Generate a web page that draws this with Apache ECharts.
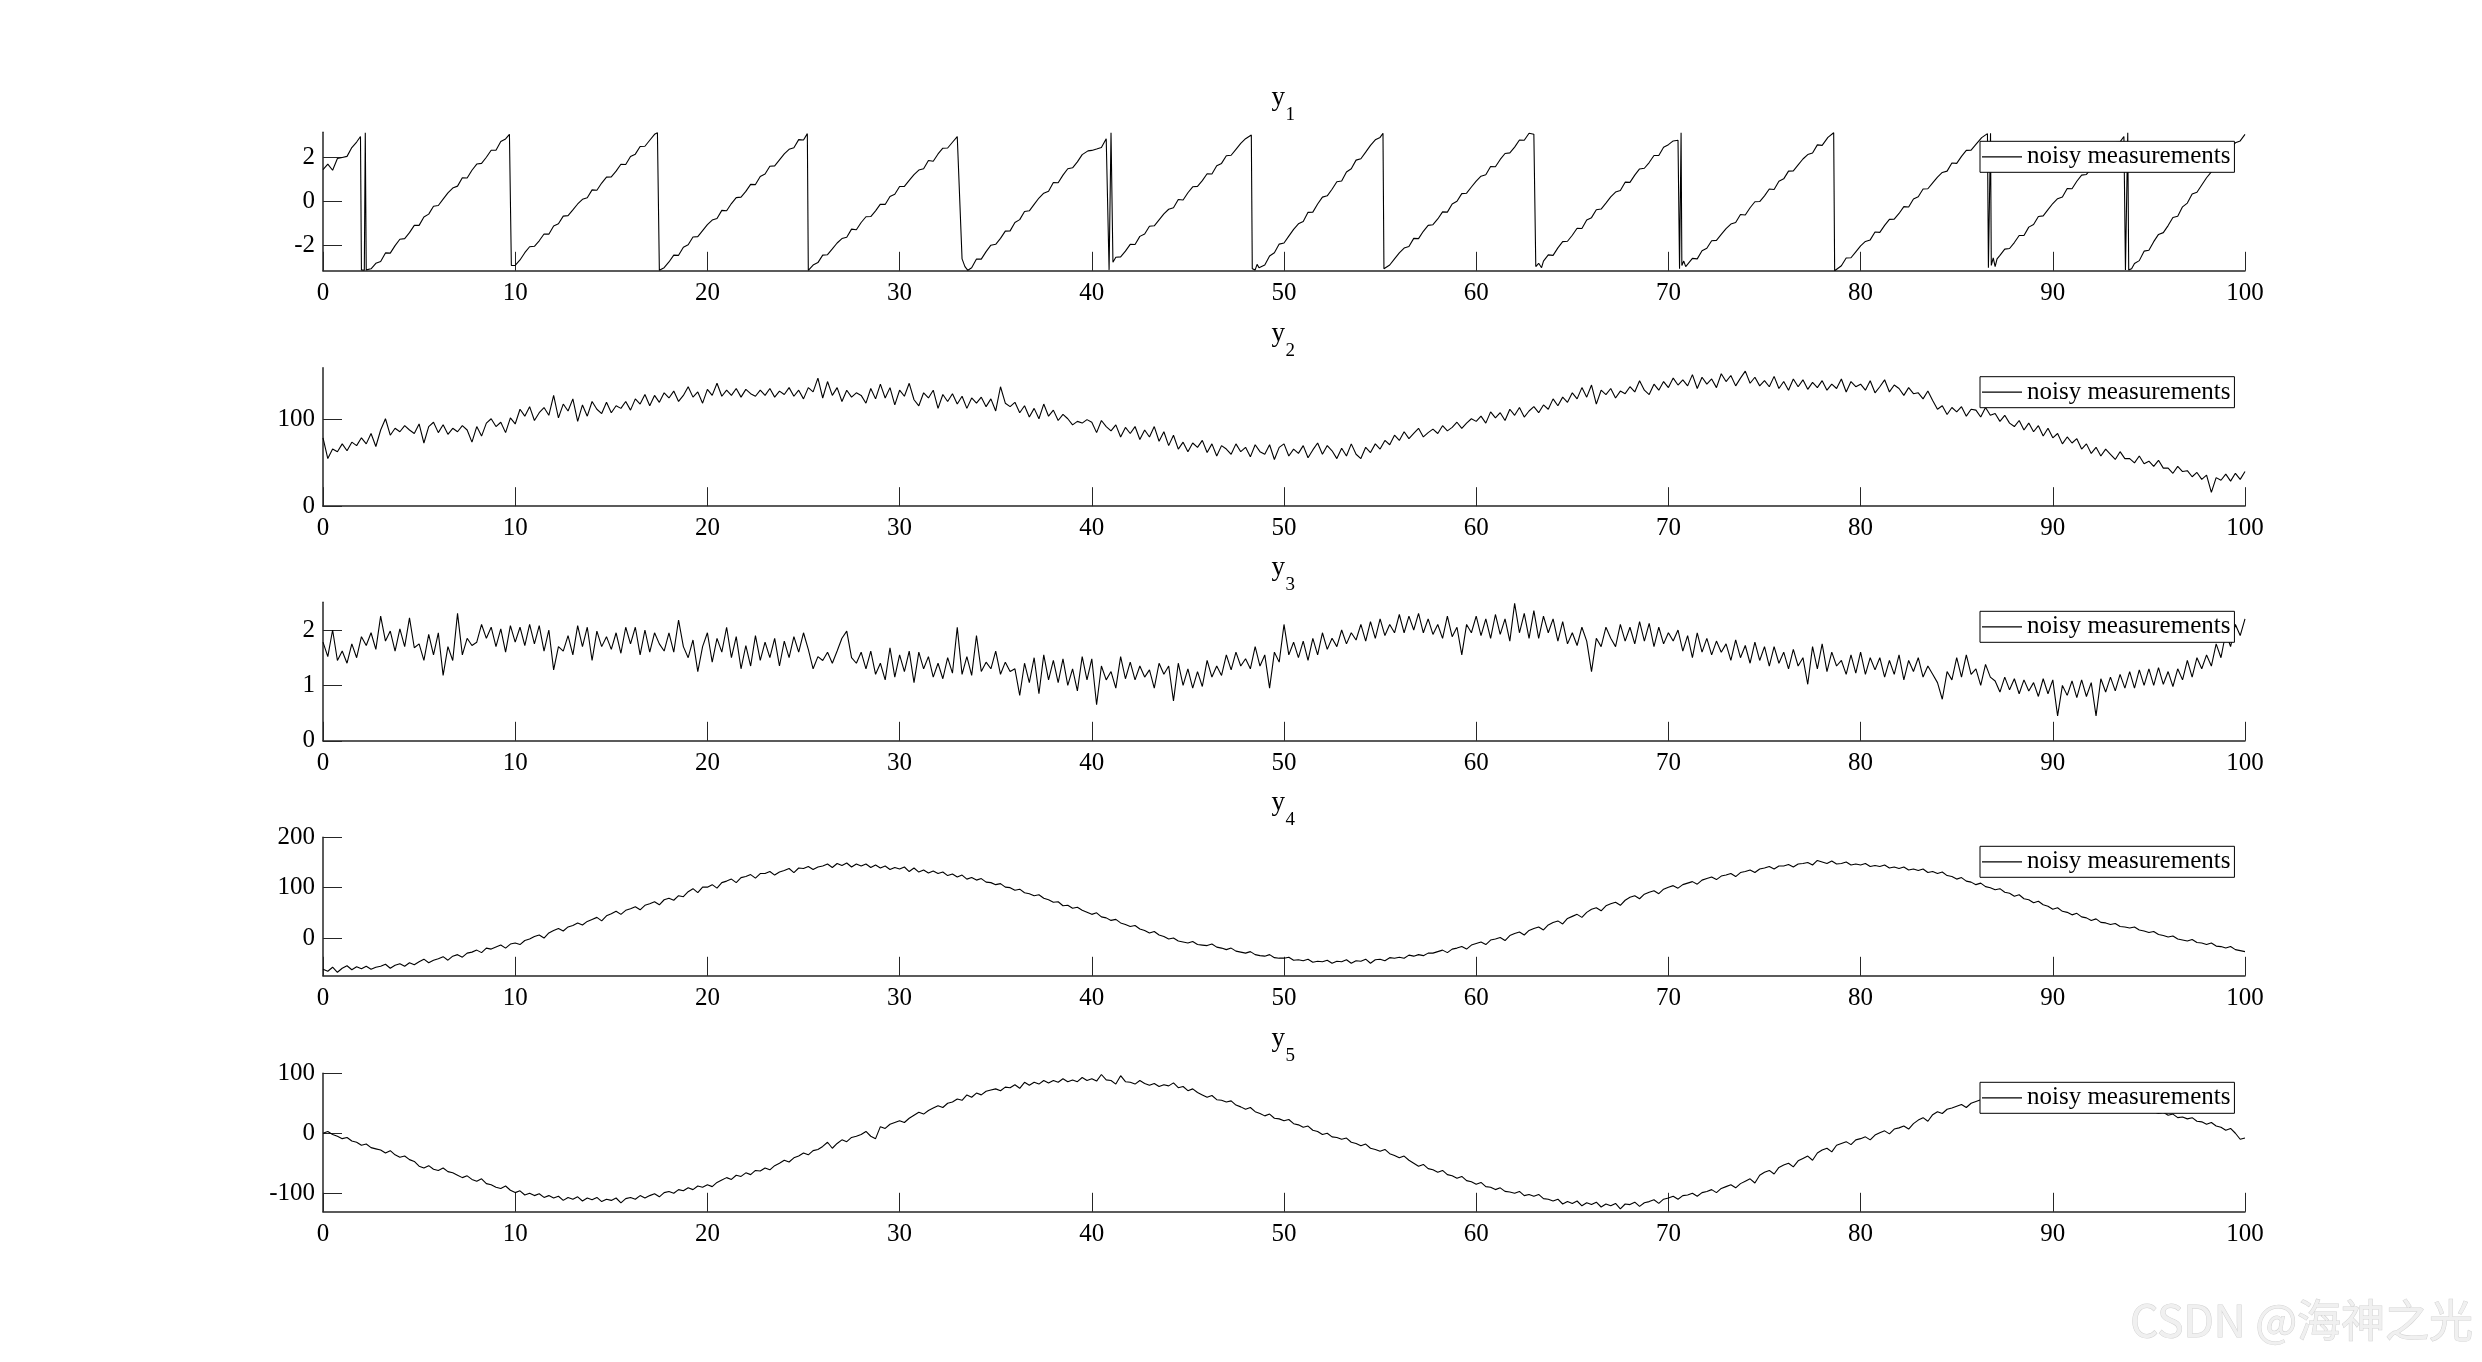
<!DOCTYPE html>
<html><head><meta charset="utf-8">
<script src="https://cdn.jsdelivr.net/npm/echarts@6/dist/echarts.min.js"></script>
<style>html,body{margin:0;padding:0;background:#fff;}#c{width:2482px;height:1362px;}</style>
</head><body><div id="c"></div>
<script>
// ---------- data ----------
const STEP = 0.25; // sampling step of y2..y5 (x = index * STEP)
const xTicks = [0,10,20,30,40,50,60,70,80,90,100];
const y1Ticks = [-2,0,2];
const y2Ticks = [0,100];
const y3Ticks = [0,1,2];
const y4Ticks = [0,100,200];
const y5Ticks = [-100,0,100];
const legendName = 'noisy measurements';
const titleSubs = ['1','2','3','4','5'];

// y1: wrapped phase, [x, y] pairs
const y1 = [
[0,1.45],[0.25,1.7],[0.5,1.42],[0.75,1.95],[1,2.0],[1.25,2.05],[1.5,2.45],[1.75,2.7],[1.95,2.95],
[2.0,-3.1],[2.15,-3.12],[2.2,3.12],[2.25,-3.1],[2.5,-3.05],
[2.75,-2.80],[3,-2.72],[3.25,-2.33],[3.5,-2.34],[3.75,-2.00],[4,-1.71],[4.25,-1.68],[4.5,-1.41],[4.75,-1.08],[5,-1.08],[5.25,-0.70],[5.5,-0.57],[5.75,-0.21],[6,-0.18],[6.25,0.11],[6.5,0.39],[6.75,0.61],[7,0.70],[7.25,1.08],[7.5,1.07],[7.75,1.42],[8,1.70],[8.25,1.73],[8.5,2.01],[8.75,2.33],[9,2.33],[9.25,2.72],[9.5,2.84],[9.7,3.05],
[9.8,-2.9],[10,-2.9],[10.25,-2.65],[10.5,-2.32],[10.75,-2.05],[11,-2.03],[11.25,-1.78],[11.5,-1.47],[11.75,-1.48],[12,-1.11],[12.25,-1.01],[12.5,-0.66],[12.75,-0.64],[13,-0.38],[13.25,-0.11],[13.5,0.10],[13.75,0.17],[14,0.53],[14.25,0.51],[14.5,0.84],[14.75,1.11],[15,1.12],[15.25,1.38],[15.5,1.69],[15.75,1.68],[16,2.04],[16.25,2.15],[16.5,2.50],[16.75,2.51],[17,2.78],[17.25,3.05],[17.4,3.12],
[17.5,-3.12],[17.75,-3.0],[18,-2.74],[18.25,-2.43],[18.5,-2.44],[18.75,-2.07],[19,-1.96],[19.25,-1.61],[19.5,-1.59],[19.75,-1.32],[20,-1.05],[20.25,-0.84],[20.5,-0.77],[20.75,-0.40],[21,-0.42],[21.25,-0.09],[21.5,0.18],[21.75,0.20],[22,0.46],[22.25,0.78],[22.5,0.77],[22.75,1.14],[23,1.25],[23.25,1.60],[23.5,1.62],[23.75,1.89],[24,2.16],[24.25,2.37],[24.5,2.44],[24.75,2.81],[25,2.79],[25.2,3.08],
[25.25,-3.12],[25.5,-2.88],[25.75,-2.77],[26,-2.43],[26.25,-2.41],[26.5,-2.15],[26.75,-1.88],[27,-1.68],[27.25,-1.62],[27.5,-1.25],[27.75,-1.28],[28,-0.95],[28.25,-0.69],[28.5,-0.68],[28.75,-0.42],[29,-0.12],[29.25,-0.13],[29.5,0.23],[29.75,0.33],[30,0.68],[30.25,0.69],[30.5,0.96],[30.75,1.22],[31,1.43],[31.25,1.49],[31.5,1.86],[31.75,1.83],[32,2.16],[32.25,2.42],[32.5,2.43],[32.75,2.69],[33,2.95],[33.1,2.98],
[33.25,-2.6],[33.4,-2.95],[33.55,-3.12],
[33.75,-3.0],[34,-2.61],[34.25,-2.61],[34.5,-2.27],[34.75,-1.98],[35,-1.94],[35.25,-1.67],[35.5,-1.34],[35.75,-1.33],[36,-0.95],[36.25,-0.82],[36.5,-0.45],[36.75,-0.42],[37,-0.13],[37.25,0.16],[37.5,0.38],[37.75,0.47],[38,0.86],[38.25,0.85],[38.5,1.20],[38.75,1.49],[39,1.53],[39.25,1.80],[39.5,2.13],[39.8,2.3],[40,2.32],[40.25,2.38],[40.5,2.45],[40.75,2.85],[40.85,2.92],
[40.9,-3.1],[40.95,-3.12],[41,3.12],[41.05,3.1],[41.1,-2.75],
[41.25,-2.53],[41.5,-2.51],[41.75,-2.25],[42,-1.94],[42.25,-1.95],[42.5,-1.58],[42.75,-1.47],[43,-1.12],[43.25,-1.10],[43.5,-0.83],[43.75,-0.56],[44,-0.35],[44.25,-0.28],[44.5,0.09],[44.75,0.07],[45,0.40],[45.25,0.67],[45.5,0.69],[45.75,0.95],[46,1.26],[46.25,1.25],[46.5,1.62],[46.75,1.73],[47,2.08],[47.25,2.10],[47.5,2.37],[47.75,2.64],[48,2.85],[48.3,3.02],
[48.35,-3.05],[48.5,-3.1],[48.6,-2.85],[48.7,-3.0],[48.8,-2.95],
[49,-2.88],[49.25,-2.47],[49.5,-2.32],[49.75,-1.93],[50,-1.88],[50.25,-1.57],[50.5,-1.26],[50.75,-1.01],[51,-0.90],[51.25,-0.49],[51.5,-0.48],[51.75,-0.11],[52,0.20],[52.25,0.26],[52.5,0.56],[52.75,0.90],[53,0.93],[53.25,1.34],[53.5,1.49],[53.75,1.88],[54,1.94],[54.25,2.24],[54.5,2.55],[54.75,2.80],[55,2.91],[55.15,3.1],
[55.2,-3.05],[55.5,-2.88],[55.75,-2.60],[56,-2.33],[56.25,-2.11],[56.5,-2.04],[56.75,-1.67],[57,-1.68],[57.25,-1.35],[57.5,-1.08],[57.75,-1.05],[58,-0.79],[58.25,-0.47],[58.5,-0.48],[58.75,-0.11],[59,0.01],[59.25,0.36],[59.5,0.38],[59.75,0.66],[60,0.93],[60.25,1.15],[60.5,1.22],[60.75,1.59],[61,1.58],[61.25,1.91],[61.5,2.18],[61.75,2.21],[62,2.47],[62.25,2.79],[62.5,2.78],[62.75,3.1],[63,3.05],
[63.1,-2.95],[63.25,-2.8],[63.4,-3.0],[63.5,-2.7],
[63.75,-2.42],[64,-2.44],[64.25,-2.10],[64.5,-1.82],[64.75,-1.80],[65,-1.53],[65.25,-1.21],[65.5,-1.22],[65.75,-0.84],[66,-0.73],[66.25,-0.37],[66.5,-0.34],[66.75,-0.07],[67,0.21],[67.25,0.43],[67.5,0.50],[67.75,0.88],[68,0.87],[68.25,1.20],[68.5,1.48],[68.75,1.51],[69,1.77],[69.25,2.09],[69.5,2.09],[69.75,2.46],[70,2.58],[70.25,2.75],[70.5,2.78],
[70.58,-3.05],[70.62,-3.1],[70.66,3.12],[70.7,-2.9],[70.8,-2.7],[70.9,-2.95],
[71,-2.89],[71.25,-2.58],[71.5,-2.60],[71.75,-2.23],[72,-2.12],[72.25,-1.78],[72.5,-1.76],[72.75,-1.49],[73,-1.23],[73.25,-1.02],[73.5,-0.95],[73.75,-0.59],[74,-0.61],[74.25,-0.28],[74.5,-0.01],[74.75,0.00],[75,0.26],[75.25,0.57],[75.5,0.55],[75.75,0.92],[76,1.03],[76.25,1.38],[76.5,1.39],[76.75,1.66],[77,1.93],[77.25,2.13],[77.5,2.20],[77.75,2.57],[78,2.55],[78.3,2.91],[78.6,3.12],
[78.65,-3.14],[79,-2.91],[79.25,-2.56],[79.5,-2.55],[79.75,-2.28],[80,-2.01],[80.25,-1.81],[80.5,-1.74],[80.75,-1.38],[81,-1.40],[81.25,-1.08],[81.5,-0.81],[81.75,-0.80],[82,-0.54],[82.25,-0.23],[82.5,-0.25],[82.75,0.12],[83,0.22],[83.25,0.57],[83.5,0.58],[83.75,0.85],[84,1.11],[84.25,1.32],[84.5,1.38],[84.75,1.75],[85,1.73],[85.25,2.05],[85.5,2.32],[85.75,2.33],[86,2.59],[86.3,2.9],[86.6,3.08],
[86.65,-3.0],[86.72,-3.05],[86.76,3.1],[86.8,-2.9],[86.9,-2.55],[87,-2.95],[87.1,-2.6],
[87.25,-2.44],[87.5,-2.16],[87.75,-2.13],[88,-1.86],[88.25,-1.54],[88.5,-1.54],[88.75,-1.16],[89,-1.04],[89.25,-0.68],[89.5,-0.65],[89.75,-0.37],[90,-0.09],[90.25,0.13],[90.5,0.21],[90.75,0.59],[91,0.58],[91.25,0.92],[91.5,1.20],[91.75,1.23],[92,1.50],[92.25,1.82],[92.5,1.82],[92.75,2.20],[93,2.32],[93.25,2.68],[93.5,2.71],[93.7,2.95],
[93.78,-3.1],[93.85,-3.12],[93.9,3.12],[93.95,-3.1],[94.1,-3.05],
[94.25,-2.81],[94.5,-2.68],[94.75,-2.25],[95,-2.21],[95.25,-1.82],[95.5,-1.49],[95.75,-1.41],[96,-1.09],[96.25,-0.72],[96.5,-0.67],[96.75,-0.24],[97,-0.07],[97.25,0.34],[97.5,0.42],[97.75,0.75],[98,1.08],[98.25,1.35],[98.5,1.48],[98.75,1.91],[99,1.95],[99.25,2.34],[99.5,2.67],[99.75,2.75],[100,3.05]
];

const y2 = [
79,55,66,63, 72,64,74,70, 79,72,84,69, 88,101,82,90, 86,93,88,84,
95,73,92,97, 85,94,83,90, 86,93,88,74, 92,81,96,101, 92,97,85,102,
95,112,104,115, 99,108,114,105, 128,102,118,110, 124,98,117,104, 121,112,107,120,
108,116,113,121, 111,124,118,129, 116,128,120,131, 125,133,121,128, 138,126,132,119,
135,128,142,127, 134,128,136,126, 135,130,127,134, 128,136,126,133, 129,137,127,134,
124,137,132,148, 125,144,128,137, 121,134,126,131, 128,119,136,124, 141,125,137,117,
134,127,142,123, 116,131,125,134, 113,129,121,130, 118,127,113,125, 119,126,115,124,
110,138,119,115, 120,108,116,103, 113,101,118,104, 111,99,106,101, 94,98,96,100,
97,85,99,92, 87,94,80,91, 84,92,77,88, 80,92,75,86, 70,82,66,74,
63,73,68,76, 62,72,58,70, 66,60,72,63, 68,57,71,63, 60,71,54,68,
72,58,66,61, 70,56,65,73, 60,70,64,55, 67,58,72,60, 55,68,62,72,
66,76,71,82, 76,86,78,84, 90,80,85,89, 84,93,87,91, 97,90,96,101,
98,104,96,109, 102,108,99,112, 105,114,103,110, 115,108,117,112, 124,116,126,120,
131,124,137,126, 140,118,134,129, 136,125,133,130, 138,132,145,134, 129,141,134,144,
137,148,140,146, 139,152,136,149, 141,147,137,153, 144,151,139,148, 156,142,149,139,
145,138,150,136, 144,134,147,138, 146,135,143,137, 145,134,141,136, 147,132,144,138,
141,134,145,131, 138,146,132,140, 136,128,137,130, 131,124,133,122, 112,116,106,114,
109,115,104,112, 111,103,114,105, 107,98,105,96, 92,99,88,96, 86,93,81,90,
79,84,72,80, 73,78,66,72, 61,68,58,66, 60,54,63,55, 55,50,58,49,
52,46,53,44, 44,38,46,40, 41,34,39,31, 36,16,33,30, 37,29,38,31,
40];

const y3 = [
1.78,1.52,2.0,1.45, 1.62,1.4,1.75,1.5, 1.88,1.72,1.95,1.65, 2.25,1.8,1.98,1.62, 2.02,1.7,2.22,1.68,
1.75,1.45,1.92,1.55, 1.95,1.18,1.7,1.45, 2.3,1.55,1.85,1.72, 1.78,2.1,1.85,2.05, 1.7,2.02,1.6,2.08,
1.78,2.05,1.72,2.1, 1.75,2.08,1.62,2.0, 1.28,1.7,1.62,1.9, 1.55,2.08,1.7,2.05, 1.45,1.98,1.7,1.88,
1.65,1.95,1.58,2.05, 1.75,2.05,1.55,2.0, 1.6,1.95,1.75,1.62, 1.95,1.6,2.18,1.7, 1.5,1.82,1.25,1.7,
1.95,1.42,1.85,1.6, 2.05,1.5,1.88,1.3, 1.72,1.35,1.9,1.45, 1.78,1.5,1.85,1.35, 1.8,1.5,1.88,1.6,
1.95,1.65,1.3,1.52, 1.45,1.6,1.4,1.62, 1.85,1.98,1.5,1.4, 1.6,1.3,1.62,1.2, 1.4,1.1,1.68,1.15,
1.55,1.25,1.62,1.05, 1.6,1.3,1.52,1.15, 1.4,1.12,1.5,1.22, 2.05,1.2,1.52,1.18, 1.9,1.25,1.42,1.3,
1.62,1.2,1.42,1.25, 1.3,0.82,1.4,1.05, 1.5,0.85,1.55,1.1, 1.45,1.05,1.48,1.0, 1.3,0.9,1.52,1.1,
1.48,0.65,1.35,1.1, 1.25,0.95,1.52,1.12, 1.42,1.1,1.35,1.15, 1.28,0.95,1.4,1.2, 1.35,0.72,1.4,1.0,
1.3,0.95,1.25,0.98, 1.45,1.15,1.35,1.18, 1.55,1.28,1.6,1.35, 1.48,1.3,1.7,1.35, 1.55,0.95,1.6,1.42,
2.1,1.55,1.78,1.5, 1.8,1.45,1.85,1.55, 1.95,1.65,1.85,1.7, 2.0,1.75,1.95,1.82, 2.1,1.8,2.15,1.85,
2.2,1.9,2.1,1.95, 2.28,1.95,2.25,2.0, 2.3,1.95,2.2,1.92, 2.1,1.85,2.25,1.88, 2.05,1.55,2.1,1.95,
2.25,1.9,2.2,1.85, 2.28,1.92,2.2,1.8, 2.48,1.95,2.3,1.85, 2.35,1.85,2.25,1.95, 2.2,1.8,2.15,1.75,
1.95,1.72,2.05,1.8, 1.25,1.85,1.7,2.05, 1.85,1.7,2.1,1.8, 2.05,1.75,2.15,1.8, 2.12,1.7,2.05,1.75,
1.95,1.8,2.0,1.62, 1.9,1.5,1.95,1.6, 1.85,1.55,1.8,1.6, 1.75,1.45,1.82,1.5, 1.72,1.4,1.78,1.45,
1.7,1.35,1.7,1.4, 1.6,1.3,1.65,1.35, 1.5,1.02,1.7,1.3, 1.75,1.25,1.6,1.35, 1.45,1.2,1.55,1.22,
1.6,1.2,1.5,1.28, 1.5,1.15,1.45,1.2, 1.55,1.1,1.45,1.25, 1.5,1.15,1.35,1.2, 1.05,0.75,1.25,1.1,
1.5,1.15,1.55,1.2, 1.3,1.0,1.38,1.15, 1.08,0.88,1.15,0.92, 1.12,0.85,1.1,0.9, 1.05,0.8,1.12,0.85,
1.1,0.45,1.0,0.82, 1.08,0.78,1.1,0.8, 1.05,0.45,1.12,0.88, 1.15,0.9,1.2,0.95, 1.25,0.95,1.28,1.0,
1.3,1.0,1.32,1.02, 1.25,0.98,1.3,1.1, 1.45,1.15,1.5,1.3, 1.55,1.35,1.75,1.5, 1.95,1.7,2.1,1.9,
2.2];

const y4 = [
-62,-66,-58,-68, -60,-55,-63,-57, -61,-56,-62,-58, -56,-52,-60,-54, -51,-56,-49,-53,
-47,-42,-49,-44, -41,-37,-44,-36, -33,-38,-30,-28, -24,-29,-20,-22, -18,-14,-20,-12,
-10,-13,-5,-2, 3,6,0,10, 15,19,14,22, 25,30,26,33, 37,41,34,44,
48,53,47,55, 58,62,56,65, 68,72,66,76, 79,75,84,82, 92,98,90,101,
101,106,99,110, 113,117,110,120, 122,126,119,128, 128,132,125,131, 134,138,130,139,
138,142,136,141, 143,147,140,148, 144,149,141,147, 143,147,140,145, 139,143,136,140,
137,141,132,139, 131,135,129,133, 128,131,124,127, 121,125,117,120, 115,118,111,110,
106,108,101,100, 95,97,90,88, 84,86,79,76, 71,72,64,65, 59,61,55,51,
47,50,42,40, 35,37,30,27, 23,25,18,15, 10,13,6,3, -2,0,-6,-8,
-10,-7,-13,-14, -15,-12,-18,-20, -23,-20,-26,-28, -30,-27,-33,-35, -36,-33,-39,-40,
-40,-38,-44,-43, -45,-42,-48,-46, -47,-44,-50,-46, -47,-43,-50,-45, -46,-42,-50,-43,
-42,-45,-39,-40, -38,-40,-34,-36, -33,-35,-30,-30, -27,-24,-29,-22, -20,-17,-22,-14,
-11,-8,-13,-4, -2,1,-5,5, 9,12,6,15, 19,22,16,26, 31,34,28,39,
43,47,41,51, 57,60,54,64, 68,71,65,75, 81,84,78,87, 91,94,88,97,
101,104,99,106, 109,112,107,115, 118,121,116,123, 125,128,122,130, 132,135,130,137,
139,142,137,143, 143,146,141,147, 148,150,145,154, 151,148,153,147, 148,151,145,147,
145,148,142,144, 142,145,139,141, 138,141,135,137, 134,137,130,132, 128,131,124,122,
117,120,113,111, 106,109,102,100, 96,98,91,89, 83,86,78,76, 70,73,66,63,
57,60,53,51, 46,49,42,40, 35,38,31,30, 27,29,23,22, 20,22,16,14,
11,13,7,5, 2,4,-2,-4, -6,-3,-9,-10, -13,-10,-16,-17, -20,-17,-23,-25,
-27];

const y5 = [
0,3,-2,-5, -9,-7,-13,-15, -20,-18,-24,-26, -28,-33,-29,-36, -40,-38,-44,-47,
-55,-58,-54,-60, -62,-58,-64,-66, -70,-74,-71,-77, -80,-76,-84,-86, -90,-92,-88,-95,
-99,-96,-103,-100, -104,-101,-107,-104, -108,-105,-112,-107, -110,-106,-113,-108, -111,-107,-114,-110,
-112,-108,-116,-109, -107,-110,-104,-108, -104,-101,-106,-99, -97,-100,-94,-96, -91,-94,-88,-90,
-86,-89,-82,-78, -74,-77,-70,-72, -66,-69,-62,-63, -58,-61,-54,-50, -45,-48,-41,-38,
-33,-36,-29,-27, -22,-15,-25,-17, -11,-14,-7,-5, -2,3,-5,-9, 11,8,15,18,
21,18,25,30, 35,32,38,42, 46,43,50,52, 57,55,64,60, 67,64,70,72,
74,71,77,76, 81,75,85,80, 85,82,88,84, 88,85,91,86, 89,86,93,88,
91,87,98,89, 88,82,96,86, 85,82,88,83, 80,83,78,81, 79,84,76,78,
71,74,68,64, 60,63,56,55, 52,54,47,44, 40,43,36,33, 29,32,25,24,
21,23,16,14, 10,12,5,3, -2,0,-6,-7, -10,-8,-15,-17, -21,-18,-25,-27,
-30,-27,-34,-37, -41,-38,-45,-50, -55,-52,-59,-61, -65,-62,-69,-71, -75,-72,-79,-81,
-85,-82,-89,-90, -94,-91,-97,-98, -100,-97,-104,-102, -105,-102,-109,-110, -113,-110,-118,-114,
-117,-113,-121,-116, -119,-115,-123,-118, -121,-117,-126,-118, -119,-115,-122,-116, -114,-111,-117,-110,
-108,-105,-110,-104, -103,-100,-105,-99, -97,-94,-99,-92, -89,-86,-91,-84, -80,-76,-83,-70,
-65,-62,-68,-57, -53,-50,-56,-46, -42,-38,-45,-33, -28,-25,-31,-20, -17,-14,-19,-11,
-9,-6,-11,-3, 1,4,-1,7, 9,12,7,16, 22,26,20,31, 36,33,40,42,
45,48,43,50, 53,56,51,57, 59,62,57,63, 63,66,61,66, 66,69,64,68,
67,70,65,68, 66,68,63,64, 62,64,58,58, 56,58,52,51, 48,50,43,41,
38,36,33,35, 30,32,26,27, 24,26,20,19, 15,18,12,10, 5,8,0,-10,
-8];

// ---------- layout ----------
const W = 2482, H = 1362;
const GRID_LEFT = 323, GRID_RIGHT = 237, GRID_H = 138.5;
const gridTops = [132.3, 367.7, 602.3, 837.3, 1073.3];
const yRanges = [[-Math.PI, Math.PI], [0, 160], [0, 2.5], [-75, 200], [-131, 100]];
const yTickSets = [y1Ticks, y2Ticks, y3Ticks, y4Ticks, y5Ticks];
const FONT = "'Liberation Serif', 'DejaVu Serif', serif";
const AXIS_COLOR = '#262626';
const CENTER_X = GRID_LEFT + (W - GRID_LEFT - GRID_RIGHT) / 2;

const toPairs = arr => arr.map((v, i) => [i * STEP, v]);
const seriesData = [y1, toPairs(y2), toPairs(y3), toPairs(y4), toPairs(y5)];

const chart = echarts.init(document.getElementById('c'), null, {width: W, height: H, renderer: 'canvas'});

const graphics = [];
gridTops.forEach((t, i) => {
  graphics.push({type: 'text', x: CENTER_X - 12.5, y: t - 34, silent: true,
    style: {text: 'y', font: "27px 'Liberation Serif'", fill: '#000', align: 'left', verticalAlign: 'middle'}});
  graphics.push({type: 'text', x: CENTER_X + 1.5, y: t - 17, silent: true,
    style: {text: titleSubs[i], font: "19px 'Liberation Serif'", fill: '#000', align: 'left', verticalAlign: 'middle'}});
});
graphics.push({type: 'text', x: 2473, y: 1320, silent: true,
  style: {text: 'CSDN @海神之光', font: "44px 'Noto Sans CJK SC'", fill: '#f0f0f0', stroke: '#d2d2d2', lineWidth: 1, align: 'right', verticalAlign: 'middle'}});

const option = {
  animation: false,
  backgroundColor: '#fff',
  grid: gridTops.map(t => ({left: GRID_LEFT, right: GRID_RIGHT, top: t, height: GRID_H})),
  xAxis: gridTops.map((t, i) => ({
    type: 'value', gridIndex: i, min: 0, max: 100, interval: 10,
    axisLine: {show: true, onZero: false, lineStyle: {color: AXIS_COLOR, width: 1.5}},
    axisTick: {show: true, inside: true, length: 19, lineStyle: {color: AXIS_COLOR, width: 1}},
    axisLabel: {show: true, margin: 10, fontFamily: FONT, fontSize: 25, color: '#000',
      showMinLabel: true, showMaxLabel: true},
    splitLine: {show: false}
  })),
  yAxis: gridTops.map((t, i) => ({
    type: 'value', gridIndex: i, min: yRanges[i][0], max: yRanges[i][1],
    axisLine: {show: true, onZero: false, lineStyle: {color: AXIS_COLOR, width: 1.5}},
    axisTick: {show: true, inside: true, length: 19, customValues: yTickSets[i], lineStyle: {color: AXIS_COLOR, width: 1}},
    axisLabel: {show: true, margin: 8, customValues: yTickSets[i], fontFamily: FONT, fontSize: 25, color: '#000'},
    splitLine: {show: false}
  })),
  legend: gridTops.map(t => ({
    show: true, data: [legendName], left: 1980, top: t + 9, orient: 'horizontal',
    backgroundColor: '#fff', borderColor: '#000', borderWidth: 1, borderRadius: 0,
    padding: [3, 4, 3, 2], itemWidth: 40, itemHeight: 1.3, itemGap: 0, icon: 'rect',
    itemStyle: {color: '#000', borderWidth: 0},
    textStyle: {fontFamily: FONT, fontSize: 25, color: '#000', lineHeight: 25},
    selectedMode: false
  })),
  series: seriesData.map((d, i) => ({
    type: 'line', name: legendName, xAxisIndex: i, yAxisIndex: i, data: d,
    symbol: 'none', showSymbol: false, clip: true, silent: true,
    lineStyle: {color: '#000', width: 1.1}, itemStyle: {color: '#000'},
    emphasis: {disabled: true}
  })),
  graphic: graphics
};
chart.setOption(option);
</script>
</body></html>
